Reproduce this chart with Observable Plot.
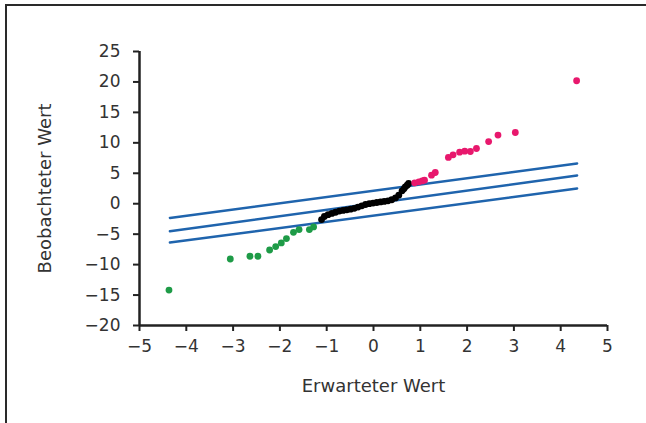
<!DOCTYPE html>
<html>
<head>
<meta charset="utf-8">
<script src="https://cdn.jsdelivr.net/npm/d3@7"></script>
<script src="https://cdn.jsdelivr.net/npm/@observablehq/plot@0.6"></script>
<style>
  html, body { margin: 0; padding: 0; background: #fff; overflow: hidden; }
  #wrap { position: relative; width: 646px; height: 423px; }
  #frame { position: absolute; left: 5px; top: 4px; width: 700px; height: 500px;
           border-left: 2.5px solid #2a2a2a; border-top: 2.5px solid #2a2a2a; pointer-events: none; }
  svg { display: block; }
</style>
</head>
<body>
<div id="wrap"><div id="frame"></div></div>
<script>
const xTicks = [-5, -4, -3, -2, -1, 0, 1, 2, 3, 4, 5];
const yTicks = [-20, -15, -10, -5, 0, 5, 10, 15, 20, 25];

const greenX = [-4.37, -3.06, -2.64, -2.47, -2.22, -2.09, -1.97, -1.86, -1.71, -1.59, -1.37, -1.28];
const greenY = [-14.18, -9.08, -8.63, -8.63, -7.6, -7.04, -6.44, -5.73, -4.69, -4.25, -4.25, -3.81];

const blackX = [-1.11, -1.05, -0.97, -0.89, -0.81, -0.73, -0.65, -0.57, -0.49, -0.41, -0.33, -0.25, -0.17, -0.09, -0.01, 0.07, 0.15, 0.23, 0.31, 0.39, 0.47, 0.54, 0.61, 0.65, 0.68, 0.72, 0.75];
const blackY = [-2.6, -2.1, -1.8, -1.6, -1.4, -1.2, -1.1, -1.0, -0.9, -0.75, -0.55, -0.35, -0.13, 0.0, 0.1, 0.2, 0.3, 0.38, 0.48, 0.65, 0.96, 1.40, 2.11, 2.45, 2.77, 3.05, 3.32];

const pinkX = [0.88, 0.97, 1.04, 1.09, 1.24, 1.32, 1.60, 1.70, 1.84, 1.95, 2.07, 2.20, 2.46, 2.66, 3.03, 4.34];
const pinkY = [3.43, 3.59, 3.75, 3.87, 4.69, 5.13, 7.6, 8.03, 8.47, 8.63, 8.58, 9.07, 10.2, 11.27, 11.7, 20.2];

const lineX = [-4.35, 4.35];
const upperY = [-2.33, 6.61];
const middleY = [-4.52, 4.64];
const lowerY = [-6.38, 2.5];

const pts = (xs, ys) => xs.map((x, i) => ({x, y: ys[i]}));
const lines = [
  ...pts(lineX, upperY).map(d => ({...d, k: "upper"})),
  ...pts(lineX, middleY).map(d => ({...d, k: "middle"})),
  ...pts(lineX, lowerY).map(d => ({...d, k: "lower"}))
];

const font = "'DejaVu Sans', sans-serif";
const minus = d => d < 0 ? "\u2212" + Math.abs(d) : String(d);

const chart = Plot.plot({
  width: 646,
  height: 423,
  marginLeft: 139,
  marginRight: 39,
  marginTop: 51,
  marginBottom: 98,
  style: {fontFamily: font, fontSize: "17px", color: "#333", background: "transparent"},
  x: {domain: [-5, 5]},
  y: {domain: [-20, 25]},
  marks: [
    Plot.axisX({ticks: xTicks, tickFormat: minus, tickSize: 6, tickPadding: 8, strokeWidth: 2, stroke: "#222",
      fontSize: 17, fill: "#333", label: null}),
    Plot.axisX({ticks: [], tickSize: 0, fontSize: 18, fill: "#333",
      label: "Erwarteter Wert", labelAnchor: "center", labelArrow: "none", labelOffset: 66}),
    Plot.axisY({ticks: yTicks, tickFormat: minus, tickSize: 6, tickPadding: 13, strokeWidth: 2, stroke: "#222",
      fontSize: 17, fill: "#333", label: null}),
    Plot.axisY({ticks: [], tickSize: 0, fontSize: 18, fill: "#333",
      label: "Beobachteter Wert", labelAnchor: "center", labelArrow: "none", labelOffset: 101}),
    Plot.ruleX([-5], {stroke: "#222", strokeWidth: 2.5}),
    Plot.ruleY([-20], {stroke: "#222", strokeWidth: 2.5}),
    Plot.line(lines, {x: "x", y: "y", z: "k", stroke: "#1f64ad", strokeWidth: 2.5}),
    Plot.dot(pts(greenX, greenY), {x: "x", y: "y", r: 3.4, fill: "#1e9b47"}),
    Plot.dot(pts(blackX, blackY), {x: "x", y: "y", r: 3.4, fill: "#000"}),
    Plot.dot(pts(pinkX, pinkY), {x: "x", y: "y", r: 3.4, fill: "#e8186d"})
  ]
});
document.getElementById("wrap").prepend(chart);
</script>
</body>
</html>
